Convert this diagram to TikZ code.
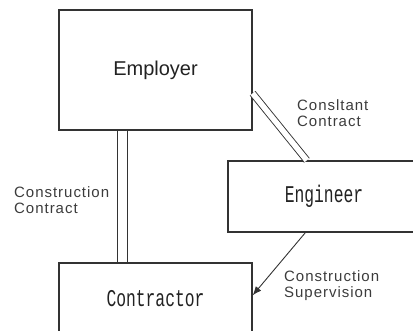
\documentclass[tikz,border=0pt]{standalone}
\usepackage{fontspec}
\usetikzlibrary{calc,arrows.meta}
\setmainfont{Liberation Sans}
\newfontfamily\labelfont[LetterSpace=6.5]{Liberation Sans}
\newfontfamily\condmono[FakeStretch=0.68]{Liberation Mono}
\definecolor{linegray}{HTML}{333333}
\definecolor{textgray}{HTML}{3c3c3c}
\definecolor{boxtext}{HTML}{222222}
\begin{document}
\begin{tikzpicture}[x=1pt,y=-1pt,
  party/.style={draw=linegray, line width=1.3pt, inner sep=0pt, text=boxtext},
  tag/.style={anchor=west, align=left, inner sep=0pt, text=textgray,
    font=\labelfont\fontsize{15}{16.5}\selectfont},
  contract/.style={draw=linegray, line width=0.9pt, double=white},
  supervise/.style={draw=linegray, line width=0.9pt,
    -{Latex[length=9pt,width=7pt]}}]
  \useasboundingbox (0,0) rectangle (413,331);
  \clip (0,0) rectangle (413,331);

  % the three parties
  \node[party, minimum width=193pt, minimum height=120pt,
        font=\fontsize{20}{24}\selectfont] (emp) at (155.5,70) {Employer};
  \node[party, minimum width=192pt, minimum height=71pt,
        font=\condmono\fontsize{24}{26}\selectfont] (eng) at (324,196.5) {Engineer};
  \node[party, minimum width=193pt, minimum height=72pt,
        font=\condmono\fontsize{24}{26}\selectfont] (con) at (155.5,299) {Contractor};

  % contract links (double lines) and supervision arrow
  \draw[contract, double distance=9pt]
    ($(emp.south west)+(64,0)$) -- ($(con.north west)+(64,0)$);
  \draw[contract, double distance=5.5pt]
    ($(emp.north east)+(0,84)$) -- ($(eng.north west)+(79.5,0)$);
  \draw[supervise] ($(eng.south west)+(78,0)$) -- ($(con.north east)+(0,33)$);

  % link labels
  \node[tag] (lcc) at (14,200) {Construction\\Contract};
  \node[tag] (lsc) at (297,113) {Consltant\\Contract};
  \node[tag] (lsv) at (284,285.5) {Construction\\Supervision};
\end{tikzpicture}
\end{document}
